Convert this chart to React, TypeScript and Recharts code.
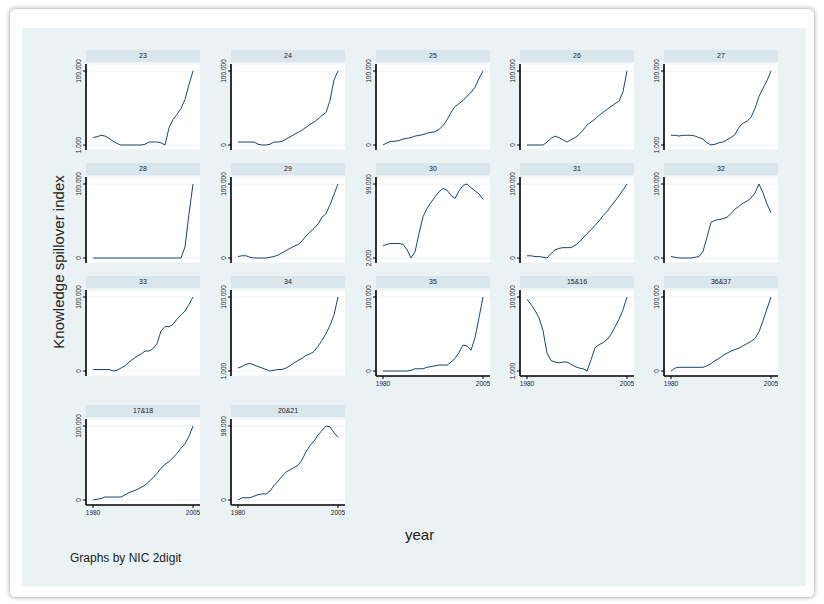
import React from 'react';
import { LineChart, Line, XAxis, YAxis, CartesianGrid } from 'recharts';

const years = [
  1980, 1981, 1982, 1983, 1984, 1985, 1986, 1987, 1988, 1989, 1990, 1991, 1992,
  1993, 1994, 1995, 1996, 1997, 1998, 1999, 2000, 2001, 2002, 2003, 2004, 2005,
];

const panelTitles = [
  '23', '24', '25', '26', '27',
  '28', '29', '30', '31', '32',
  '33', '34', '35', '15&16', '36&37',
  '17&18', '20&21',
];

// knowledge spillover index by NIC 2-digit industry
const nic23 = [11, 12, 14, 13, 10, 6, 3, 1, 1, 1, 1, 1, 1, 2, 5, 5, 5, 4, 1, 24, 35, 42, 50, 62, 82, 100];
const nic24 = [4, 4, 4, 4, 4, 1, 0, 0, 1, 4, 4, 5, 8, 11, 14, 17, 20, 24, 28, 31, 35, 40, 44, 60, 88, 100];
const nic25 = [0, 3, 5, 5, 6, 8, 9, 10, 12, 13, 14, 16, 17, 18, 21, 26, 34, 44, 52, 56, 60, 66, 71, 78, 90, 100];
const nic26 = [0, 0, 0, 0, 0, 4, 9, 12, 10, 7, 4, 7, 10, 14, 20, 27, 31, 35, 40, 44, 48, 52, 56, 59, 72, 100];
const nic27 = [14, 14, 13, 14, 14, 14, 13, 11, 9, 4, 1, 2, 4, 5, 8, 11, 15, 25, 30, 33, 38, 50, 66, 77, 87, 100];
const nic28 = [0, 0, 0, 0, 0, 0, 0, 0, 0, 0, 0, 0, 0, 0, 0, 0, 0, 0, 0, 0, 0, 0, 0, 15, 60, 100];
const nic29 = [2, 3, 3, 1, 0, 0, 0, 0, 1, 2, 4, 7, 10, 13, 16, 18, 23, 30, 35, 40, 46, 55, 60, 72, 86, 100];
const nic30 = [18, 20, 21, 21, 21, 20, 13, 2, 10, 34, 56, 67, 75, 82, 89, 93, 91, 84, 80, 90, 97, 99, 94, 90, 86, 79];
const nic31 = [3, 3, 2, 2, 1, 0, 6, 11, 13, 14, 14, 14, 17, 21, 27, 33, 38, 44, 50, 57, 63, 70, 77, 84, 92, 100];
const nic32 = [2, 1, 0, 0, 0, 0, 1, 2, 9, 28, 48, 51, 52, 53, 55, 60, 66, 70, 74, 77, 81, 88, 100, 88, 73, 61];
const nic33 = [2, 2, 2, 2, 2, 0, 1, 4, 7, 12, 16, 20, 23, 27, 27, 30, 37, 54, 60, 60, 63, 70, 76, 81, 90, 100];
const nic34 = [5, 7, 10, 11, 9, 7, 5, 3, 1, 2, 3, 3, 5, 8, 12, 15, 18, 22, 24, 27, 34, 42, 51, 62, 76, 100];
const nic35 = [0, 0, 0, 0, 0, 0, 0, 1, 3, 3, 3, 5, 6, 7, 8, 8, 8, 12, 17, 25, 35, 34, 28, 45, 72, 100];
const nic1516 = [97, 90, 82, 72, 55, 25, 15, 13, 12, 13, 13, 10, 7, 5, 4, 1, 16, 32, 36, 39, 43, 50, 60, 70, 83, 100];
const nic3637 = [0, 4, 5, 5, 5, 5, 5, 5, 5, 7, 10, 14, 17, 21, 24, 27, 29, 31, 34, 37, 40, 44, 53, 68, 84, 100];
const nic1718 = [0, 1, 2, 4, 4, 4, 4, 4, 7, 10, 12, 14, 17, 20, 25, 30, 36, 43, 48, 52, 57, 63, 70, 76, 86, 100];
const nic2021 = [0, 3, 3, 3, 5, 7, 8, 8, 12, 19, 25, 31, 37, 40, 43, 46, 53, 64, 72, 78, 86, 92, 98, 97, 89, 83];

const panelSeries = [
  nic23, nic24, nic25, nic26, nic27,
  nic28, nic29, nic30, nic31, nic32,
  nic33, nic34, nic35, nic1516, nic3637,
  nic1718, nic2021,
];

const COL_X = [86, 231, 376, 520, 664];
const ROW_Y = [50, 163, 276, 405];
const STRIP_W = 114;
const STRIP_H = 12;
const PLOT_H = 86;
const Y_W = 24;
const PAD = 16; // room above/below the plot so the rotated tick labels are not clipped
const FONT = '"Liberation Sans", Arial, sans-serif';
const LINE_COLOR = '#1a476f';

const YTick = (props: any) => {
  const { x, y, payload } = props;
  return (
    <text
      x={x}
      y={y}
      transform={`rotate(-90, ${x}, ${y})`}
      textAnchor="middle"
      fontSize={6.5}
      fontFamily={FONT}
      fill="#222"
    >
      {payload.value === 0 ? '0' : Number(payload.value).toFixed(3)}
    </text>
  );
};

interface PanelProps {
  title: string;
  values: number[];
  left: number;
  top: number;
  showX: boolean;
}

const Panel: React.FC<PanelProps> = ({ title, values, left, top, showX }) => {
  const data = years.map((year, i) => ({ year, value: values[i] }));
  const lo = Math.min(...values);
  const hi = Math.max(...values);
  const span = hi - lo;
  const xH = showX ? 20 : 0;
  const bottomPad = showX ? 0 : PAD;

  return (
    <>
      <div
        style={{
          position: 'absolute',
          left,
          top,
          width: STRIP_W,
          height: STRIP_H,
          background: '#d9e6eb',
          fontFamily: FONT,
          fontSize: 7,
          lineHeight: `${STRIP_H}px`,
          textAlign: 'center',
          color: '#222',
        }}
      >
        {title}
      </div>
      <div
        style={{
          position: 'absolute',
          left,
          top: top + STRIP_H + 1,
          width: STRIP_W,
          height: PLOT_H + 1,
          background: '#ffffff',
        }}
      />
      <div style={{ position: 'absolute', left: left - Y_W, top: top + STRIP_H + 2 - PAD }}>
        <LineChart
          width={STRIP_W + Y_W}
          height={PLOT_H + xH + PAD + bottomPad}
          data={data}
          margin={{ top: PAD, right: 0, bottom: bottomPad, left: 0 }}
        >
          <CartesianGrid vertical={false} stroke="#eaf2f3" />
          <XAxis
            type="number"
            dataKey="year"
            domain={[1980, 2005]}
            ticks={[1980, 2005]}
            padding={{ left: 7, right: 7 }}
            hide={!showX}
            height={xH}
            axisLine={{ stroke: '#000', strokeWidth: 1.6 }}
            tickLine={{ stroke: '#000' }}
            tickSize={3}
            tick={{ fontSize: 6.5, fontFamily: FONT, fill: '#222' }}
          />
          <YAxis
            type="number"
            domain={[lo - (span * 5) / 74, hi + (span * 7) / 74]}
            ticks={[lo, hi]}
            width={Y_W}
            axisLine={{ stroke: '#000', strokeWidth: 1.6 }}
            tickLine={{ stroke: '#000' }}
            tickSize={3}
            tickMargin={2}
            tick={<YTick />}
          />
          <Line
            type="linear"
            dataKey="value"
            stroke={LINE_COLOR}
            strokeWidth={1}
            dot={false}
            isAnimationActive={false}
          />
        </LineChart>
      </div>
    </>
  );
};

const App: React.FC = () => {
  return (
    <div
      style={{
        position: 'absolute',
        left: 0,
        top: 0,
        width: 824,
        height: 604,
        background: '#ffffff',
        overflow: 'hidden',
      }}
    >
      <div
        style={{
          position: 'absolute',
          left: 9,
          top: 8,
          width: 804,
          height: 588,
          border: '1px solid #cfcfcf',
          borderRadius: 6,
          boxShadow: '0 0 4px rgba(0,0,0,0.25)',
          background: '#ffffff',
        }}
      />
      <div
        style={{
          position: 'absolute',
          left: 22,
          top: 28,
          width: 784,
          height: 558,
          background: '#eaf2f3',
        }}
      />
      {panelTitles.map((title, i) => {
        const col = i % 5;
        const row = Math.floor(i / 5);
        const showX = row === 3 || (row === 2 && col >= 2);
        return (
          <Panel
            key={title}
            title={title}
            values={panelSeries[i]}
            left={COL_X[col]}
            top={ROW_Y[row]}
            showX={showX}
          />
        );
      })}
      <div
        style={{
          position: 'absolute',
          left: 58,
          top: 262,
          transform: 'translate(-50%, -50%) rotate(-90deg)',
          whiteSpace: 'nowrap',
          fontFamily: FONT,
          fontSize: 15,
          color: '#222',
        }}
      >
        Knowledge spillover index
      </div>
      <div
        style={{
          position: 'absolute',
          left: 405,
          top: 526,
          fontFamily: FONT,
          fontSize: 15,
          color: '#222',
        }}
      >
        year
      </div>
      <div
        style={{
          position: 'absolute',
          left: 70,
          top: 551,
          fontFamily: FONT,
          fontSize: 12,
          color: '#222',
        }}
      >
        Graphs by NIC 2digit
      </div>
    </div>
  );
};

export default App;
